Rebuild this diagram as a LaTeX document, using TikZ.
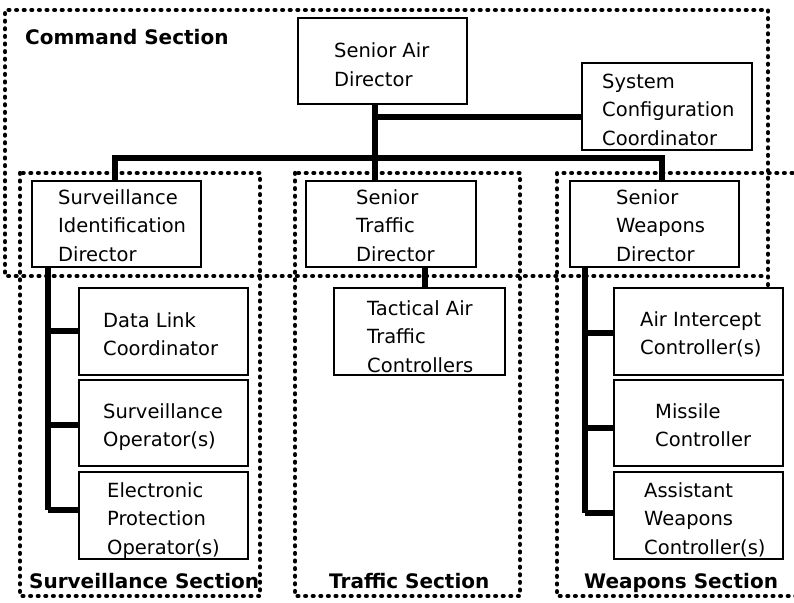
\documentclass[tikz,border=0pt]{standalone}
\usepackage{fontspec}
\setmainfont{DejaVu Sans}
\newcommand{\ml}[1]{\parbox[t]{6cm}{\raggedright #1}}
\begin{document}
\begin{tikzpicture}[x=1pt,y=-1pt,
  box/.style={draw=black,line width=2pt,inner sep=0pt,outer sep=0pt},
  conn/.style={draw=black,line width=5.5pt},
  sect/.style={draw=black,line width=4.3pt,line cap=round,dash pattern=on 0.8pt off 6.8pt},
  txt/.style={anchor=base west,inner sep=0pt,font=\fontsize{19.5}{28.5}\selectfont},
  slab/.style={anchor=base west,inner sep=0pt,font=\fontsize{20}{24}\selectfont\bfseries}]
\useasboundingbox (0,0) rectangle (794,602);
\fill[white] (0,0) rectangle (794,602);
% section outlines
\draw[sect] (768,285) -- (768,10) -- (5,10) -- (5,276) -- (768,276);
\draw[sect] (20,173) rectangle (260,596);
\draw[sect] (295,173) rectangle (520,596);
\draw[sect] (800,173) -- (557,173) -- (557,596) -- (800,596);
% boxes
\node[box,anchor=north west,minimum width=169pt,minimum height=86pt] (sad) at (298,18) {};
\node[box,anchor=north west,minimum width=170pt,minimum height=87pt] (scc) at (582,63) {};
\node[box,anchor=north west,minimum width=169pt,minimum height=86pt] (sid) at (32,181) {};
\node[box,anchor=north west,minimum width=170pt,minimum height=86pt] (std) at (306,181) {};
\node[box,anchor=north west,minimum width=169pt,minimum height=86pt] (swd) at (570,181) {};
\node[box,anchor=north west,minimum width=169pt,minimum height=87pt] (dlc) at (79,288) {};
\node[box,anchor=north west,minimum width=169pt,minimum height=86pt] (so) at (79,380) {};
\node[box,anchor=north west,minimum width=169pt,minimum height=87pt] (epo) at (79,472) {};
\node[box,anchor=north west,minimum width=171pt,minimum height=87pt] (tatc) at (334,288) {};
\node[box,anchor=north west,minimum width=169pt,minimum height=87pt] (aic) at (614,288) {};
\node[box,anchor=north west,minimum width=169pt,minimum height=86pt] (mc) at (614,380) {};
\node[box,anchor=north west,minimum width=169pt,minimum height=87pt] (awc) at (614,472) {};
% texts
\node[slab] (lcmd) at (25,45) {Command Section};
\node[slab] (lsur) at (29,588) {Surveillance Section};
\node[slab] (ltra) at (329,588) {Traffic Section};
\node[slab] (lwea) at (584,588) {Weapons Section};
\node[txt] (tsad) at (334,58) {\ml{Senior Air\\Director}};
\node[txt] (tscc) at (602,88) {\ml{System\\Configuration\\Coordinator}};
\node[txt] (tsid) at (58,204) {\ml{Surveillance\\Identification\\Director}};
\node[txt] (tstd) at (356,204) {\ml{Senior\\Traffic\\Director}};
\node[txt] (tswd) at (616,204) {\ml{Senior\\Weapons\\Director}};
\node[txt] (tdlc) at (103,327) {\ml{Data Link\\Coordinator}};
\node[txt] (tso) at (103,418) {\ml{Surveillance\\Operator(s)}};
\node[txt] (tepo) at (107,497) {\ml{Electronic\\Protection\\Operator(s)}};
\node[txt] (ttatc) at (367,315) {\ml{Tactical Air\\Traffic\\Controllers}};
\node[txt] (taic) at (640,326) {\ml{Air Intercept\\Controller(s)}};
\node[txt] (tmc) at (655,418) {\ml{Missile\\Controller}};
\node[txt] (tawc) at (644,497) {\ml{Assistant\\Weapons\\Controller(s)}};
% connectors
\coordinate (trunk) at (375,117);
\coordinate (busL) at (115,158);
\coordinate (busR) at (662,158);
\draw[conn] (trunk |- sad.south) -- (trunk |- std.north);
\draw[conn] (trunk) -- (trunk -| scc.west);
\draw[conn] (busL |- sid.north) -- (busL) -- (busR) -- (busR |- swd.north);
% surveillance spine
\coordinate (s1) at (48,331);
\coordinate (s2) at (48,425);
\coordinate (s3) at (48,510);
\draw[conn] (s3 |- sid.south) -- (s3);
\draw[conn] (s1) -- (s1 -| dlc.west);
\draw[conn] (s2) -- (s2 -| so.west);
\draw[conn] (s3) -- (s3 -| epo.west);
% traffic
\coordinate (tr) at (425,0);
\draw[conn] (tr |- std.south) -- (tr |- tatc.north);
% weapons spine
\coordinate (w1) at (585,333);
\coordinate (w2) at (585,428);
\coordinate (w3) at (585,513);
\draw[conn] (w3 |- swd.south) -- (w3);
\draw[conn] (w1) -- (w1 -| aic.west);
\draw[conn] (w2) -- (w2 -| mc.west);
\draw[conn] (w3) -- (w3 -| awc.west);
\end{tikzpicture}
\end{document}
